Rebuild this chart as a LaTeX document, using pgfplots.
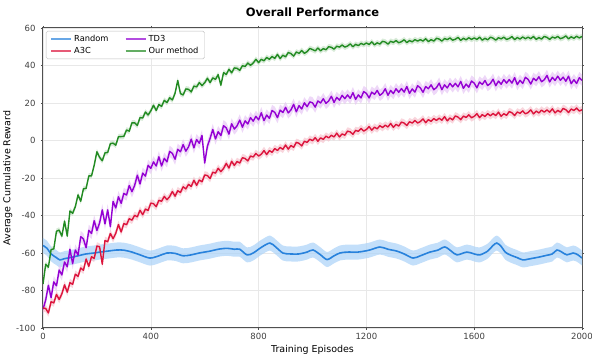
\documentclass[border=0pt]{standalone}
\usepackage{pgfplots}
\pgfplotsset{compat=1.18}
\usepackage{pgfplotstable}
\usepgfplotslibrary{fillbetween}
\usepackage{fontspec}
\setmainfont{DejaVu Sans}

\definecolor{rndblue}{RGB}{40,130,220}
\definecolor{rndband}{RGB}{175,212,248}
\definecolor{a3cred}{RGB}{220,20,60}
\definecolor{td3purple}{RGB}{148,0,211}
\definecolor{ourgreen}{RGB}{34,139,34}
\definecolor{axisgray}{RGB}{80,80,80}

\pgfplotstableread{
x g p r
0 -76.6 -90 -89.3
10 -66 -85.1 -89.6
20 -67.6 -77.2 -92
30 -58.2 -83.8 -86
40 -57.8 -75.4 -86.6
50 -48.4 -77.5 -82.1
60 -47.8 -69.1 -84.8
70 -51 -71.7 -81.8
80 -43 -64.8 -77
90 -51 -67.4 -80.9
100 -37.6 -58 -75.8
110 -38.8 -65.7 -76.7
120 -35.3 -58.4 -71.3
130 -29 -61.1 -72.5
140 -32.4 -51.3 -68
150 -25.8 -52.5 -69.2
160 -25.5 -57.2 -63.2
170 -18.9 -47.9 -67.1
180 -18.9 -49.6 -62
190 -13.2 -42.8 -62.9
200 -6 -48 -56.3
210 -9 -44 -56.7
220 -10.8 -37 -66
230 -6.6 -44.5 -53.3
240 -6.4 -37 -54
250 -1.7 -46 -49.6
260 -1.4 -32.5 -52.4
270 -2.5 -36 -49.5
280 2 -30 -44.8
290 2.1 -33.5 -48.8
300 2.2 -28.2 -44.3
310 5.6 -29.1 -44.9
320 5.0 -24.0 -41.7
330 9.4 -27.3 -42.5
340 9.4 -24.0 -39.9
350 8.0 -18.5 -40.7
360 12.2 -23.2 -37.2
370 12.0 -17.4 -39.6
380 15.2 -19.0 -36.6
390 13.6 -13.2 -37.3
400 15.8 -14.9 -33.4
410 18.8 -11.4 -33.7
420 16.0 -13.6 -35.3
430 19.2 -8.7 -31.9
440 18.2 -13.6 -32.4
450 21.4 -9.5 -29.8
460 20.2 -11.4 -31.6
470 22.8 -5.8 -29.9
480 21.6 -6.9 -27.2
490 25.2 -10.0 -29.7
500 32 -4.7 -26.8
510 25.0 -6.0 -27.7
520 24.3 -2.2 -24.7
530 27.5 -5.7 -25.8
540 27.3 -3.4 -23.4
550 25.9 0.7 -24.5
560 29.0 -3.9 -21.2
570 28.6 0.5 -23.9
580 30.9 -1.5 -21.1
590 29.3 2.7 -22.0
600 30.8 -12 -18.4
610 33.2 -3 -18.7
620 30.9 1.1 -20.3
630 33.4 5.9 -16.9
640 32.6 0.8 -17.4
650 35.1 4.7 -14.8
660 29.5 2.6 -16.6
670 36.2 7.9 -14.9
680 35.2 6.7 -12.2
690 38.0 3.4 -14.7
700 36.1 8.9 -11.1
710 38.7 6.1 -13.3
720 38.5 7.8 -11.2
730 37.4 10.9 -12.0
740 39.9 7.1 -9.2
750 39.5 10.5 -9.6
760 41.3 8.8 -10.9
770 40.1 12.2 -8.3
780 41.3 10.3 -8.8
790 43.3 12.9 -6.9
800 41.5 11.0 -8.3
810 43.3 14.8 -7.3
820 42.5 10.6 -5.4
830 44.3 13.6 -7.5
840 43.3 11.8 -5.4
850 44.8 16.0 -6.3
860 43.8 15.0 -4.3
870 45.9 12.2 -5.3
880 43.7 16.2 -3.7
890 45.5 14.9 -4.7
900 44.6 17.7 -2.4
910 46.9 14.7 -4.6
920 46.4 16.3 -2.7
930 45.0 19.3 -3.6
940 47.2 15.3 -1.0
950 46.5 18.6 -1.5
960 48.0 16.8 -2.9
970 46.5 20.1 -0.4
980 47.4 18.0 -1.0
990 49.1 20.6 0.7
1000 48.5 20.1 -0.1
1010 47.8 17.8 1.5
1020 49.3 21.1 -0.4
1030 47.8 20.0 1.4
1040 49.0 22.3 0.6
1050 48.4 19.8 2.3
1060 50.0 21.1 1.4
1070 49.7 23.6 2.8
1080 48.7 20.3 1.9
1090 50.3 23.0 3.9
1100 49.8 21.5 1.9
1110 50.9 24.1 3.5
1120 49.8 22.3 2.8
1130 50.4 24.3 5.0
1140 51.5 22.5 4.6
1150 50.0 25.5 3.3
1160 51.3 21.9 5.4
1170 50.6 24.3 4.9
1180 51.8 22.7 6.4
1190 51.1 26.1 5.0
1200 52.0 25.1 5.9
1210 51.2 22.7 7.4
1220 52.6 25.8 5.5
1230 51.0 24.6 7.1
1240 52.1 26.7 6.2
1250 51.4 24.1 7.9
1260 52.9 25.2 6.9
1270 52.5 27.6 8.2
1280 51.4 24.1 7.2
1290 52.9 26.7 9.1
1300 52.3 25.0 7.0
1310 53.3 27.6 8.6
1320 52.1 25.7 7.7
1330 52.7 27.7 9.8
1340 53.7 25.8 9.3
1350 52.2 28.8 8.0
1360 53.3 25.1 10.0
1370 52.6 27.5 9.3
1380 53.8 25.8 10.7
1390 53.0 29.2 9.3
1400 53.8 28.1 10.1
1410 53.0 25.7 11.5
1420 54.3 28.8 9.5
1430 52.7 27.6 11.1
1440 53.8 29.7 10.2
1450 53.0 27.1 11.7
1460 54.5 28.2 10.7
1470 54.1 30.6 11.9
1480 53.0 27.1 10.8
1490 54.4 29.7 12.7
1500 53.8 28.0 10.5
1510 54.7 30.5 12.0
1520 53.5 28.6 11.0
1530 54.0 30.5 13.1
1540 55.0 28.6 12.5
1550 53.4 31.5 11.1
1560 54.5 27.8 13.0
1570 53.7 30.1 12.3
1580 54.8 28.4 13.7
1590 53.9 31.7 12.1
1600 54.7 30.6 12.9
1610 53.9 28.1 14.3
1620 55.1 31.2 12.2
1630 53.5 29.9 13.8
1640 54.5 32.0 12.8
1650 53.7 29.3 14.3
1660 55.1 30.4 13.2
1670 54.6 32.7 14.4
1680 53.5 29.2 13.3
1690 54.8 31.7 15.1
1700 54.2 30.0 12.9
1710 55.1 32.5 14.3
1720 53.9 30.6 13.4
1730 54.4 32.5 15.4
1740 55.4 30.6 14.8
1750 53.8 33.5 13.3
1760 54.9 29.8 15.2
1770 54.1 32.1 14.5
1780 55.2 30.4 15.8
1790 54.3 33.7 14.2
1800 55.1 32.6 14.9
1810 54.3 30.1 16.3
1820 55.5 33.2 14.2
1830 53.9 31.9 15.7
1840 54.9 34.0 14.7
1850 54.1 31.3 16.2
1860 55.5 32.4 15.1
1870 55.0 34.7 16.3
1880 53.9 31.2 15.1
1890 55.2 33.7 16.9
1900 54.6 32.0 14.7
1910 55.5 34.3 16.1
1920 54.3 32.1 15.1
1930 54.8 33.8 17.1
1940 55.8 31.6 16.4
1950 54.2 34.3 14.9
1960 55.3 30.3 16.8
1970 54.5 32.4 16.0
1980 55.6 30.4 17.3
1990 54.7 33.5 15.7
2000 55.5 32.1 16.4
}\perf

\pgfplotstableread{
x b
0 -56
15 -57.5
30 -60.5
50 -62.5
63 -63.7
80 -63
100 -62.5
130 -61.5
160 -60.5
190 -60
211 -59.5
240 -59
274 -58.4
300 -58.5
330 -59.5
360 -61
397 -62.7
430 -61.5
460 -60
490 -60.2
520 -61.5
550 -61
580 -60
620 -59
650 -58
683 -57.5
710 -58
730 -58
757 -61
780 -60
810 -57
842 -54.7
865 -57
890 -60
916 -60.5
950 -60.5
980 -59.5
1002 -58.4
1030 -61
1054 -63.5
1080 -61.5
1102 -60
1130 -59.5
1169 -59.5
1210 -58.5
1250 -56.8
1280 -58
1313 -59
1340 -60.5
1373 -62.7
1400 -61.5
1436 -59.5
1465 -58.5
1491 -56.8
1515 -59
1536 -61
1573 -59.5
1600 -60.5
1621 -61
1650 -59
1670 -56
1684 -54.7
1700 -56.5
1715 -59.5
1733 -61
1760 -62.5
1781 -63.7
1810 -63
1840 -62.2
1870 -61.2
1890 -60.5
1907 -58.4
1925 -59.5
1944 -61
1967 -60
1985 -61
2000 -62.7
}\rnd

\begin{document}
\begin{tikzpicture}
\begin{axis}[
  name=ax,
  scale only axis,
  width=539pt, height=300pt,
  xmin=0, xmax=2000, ymin=-100, ymax=60,
  xtick={0,400,...,2000}, ytick={-100,-80,...,60},
  /pgf/number format/assume math mode=true,
  /pgf/number format/1000 sep={},
  tick label style={font=\fontsize{8.5}{10}\selectfont, text=black!75},
  yticklabel style={xshift=-2pt},
  major tick length=2pt,
  tick style={axisgray, line width=0.5pt},
  tick align=outside,
  grid=major,
  major grid style={black!9, line width=0.4pt},
  axis line style={axisgray, line width=1pt},
  title={Overall Performance},
  title style={font=\bfseries\fontsize{11.5}{13}\selectfont, yshift=2pt},
  xlabel={Training Episodes},
  ylabel={Average Cumulative Reward},
  label style={font=\fontsize{9.5}{11}\selectfont},
  xlabel style={yshift=2pt},
  ylabel style={yshift=-3pt},
  legend columns=2,
  legend cell align=left,
  legend image code/.code={\draw[#1, line width=2pt, draw opacity=0.7] (0pt,0pt) -- (20pt,0pt);},
  legend style={at={(0.0,1.0)}, xshift=3pt, yshift=-3pt, anchor=north west, draw=black!25, rounded corners=1.5pt,
    font=\fontsize{8.3}{10}\selectfont, fill=white, inner xsep=4pt, inner ysep=2pt,
    /tikz/every even column/.append style={column sep=14pt}},
]
% Random
\addplot[draw=none, name path=bU, forget plot, smooth] table[x=x, y expr=\thisrow{b}+4]{\rnd};
\addplot[draw=none, name path=bL, forget plot, smooth] table[x=x, y expr=\thisrow{b}-4]{\rnd};
\addplot[fill=rndband, fill opacity=0.75, draw=none, forget plot] fill between[of=bU and bL];
\addplot[rndblue, line width=1.6pt, smooth] table[x=x, y=b]{\rnd};
\addlegendentry{Random}
% TD3
\addplot[draw=none, name path=pU, forget plot] table[x=x, y expr=\thisrow{p}+3]{\perf};
\addplot[draw=none, name path=pL, forget plot] table[x=x, y expr=\thisrow{p}-3]{\perf};
\addplot[fill=td3purple!22, fill opacity=0.7, draw=none, forget plot] fill between[of=pU and pL];
\addplot[td3purple, line width=1.4pt, line join=round] table[x=x, y=p]{\perf};
\addlegendentry{TD3}
% A3C
\addplot[draw=none, name path=rU, forget plot] table[x=x, y expr=\thisrow{r}+2]{\perf};
\addplot[draw=none, name path=rL, forget plot] table[x=x, y expr=\thisrow{r}-2]{\perf};
\addplot[fill=a3cred!25, fill opacity=0.7, draw=none, forget plot] fill between[of=rU and rL];
\addplot[a3cred, line width=1.4pt, line join=round] table[x=x, y=r]{\perf};
\addlegendentry{A3C}
% Ours
\addplot[draw=none, name path=gU, forget plot] table[x=x, y expr=\thisrow{g}+1.5]{\perf};
\addplot[draw=none, name path=gL, forget plot] table[x=x, y expr=\thisrow{g}-1.5]{\perf};
\addplot[fill=ourgreen!25, fill opacity=0.7, draw=none, forget plot] fill between[of=gU and gL];
\addplot[ourgreen, line width=1.4pt, line join=round] table[x=x, y=g]{\perf};
\addlegendentry{Our method}
\end{axis}
\pgfresetboundingbox
\path ([xshift=-43pt,yshift=-27pt]ax.south west) rectangle ([xshift=10pt,yshift=28pt]ax.north east);
\end{tikzpicture}
\end{document}
